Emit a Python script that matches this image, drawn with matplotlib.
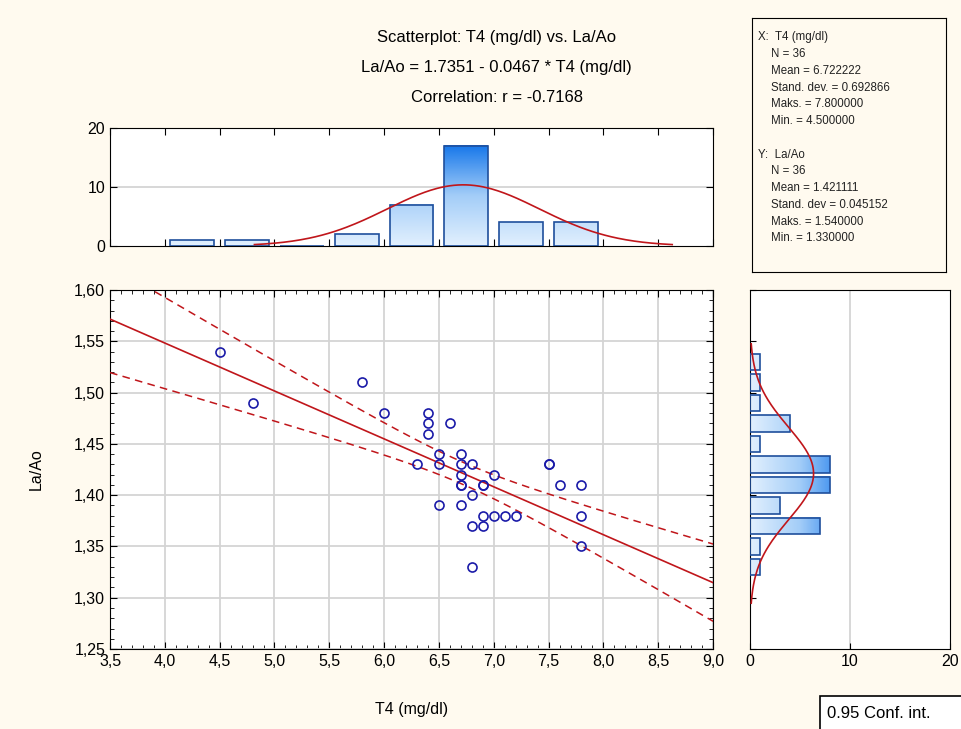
import numpy as np
import matplotlib
matplotlib.use("Agg")
import matplotlib.pyplot as plt
from matplotlib.colors import LinearSegmentedColormap
from matplotlib.patches import Rectangle
from matplotlib.ticker import MultipleLocator, FuncFormatter

plt.rcParams['font.family'] = ['Liberation Sans', 'DejaVu Sans']

# datos (36 pacientes)
t4 = [4.5, 4.8, 5.8, 6.0, 6.4, 6.4, 6.4, 6.6, 6.3, 6.5, 6.5, 6.7, 6.7, 6.8, 6.7, 6.7, 7.0, 6.9,
      6.8, 6.5, 6.7, 6.9, 7.0, 7.1, 7.2, 6.8, 6.9, 6.8, 7.5, 7.6, 7.8, 7.8, 7.8, 7.5, 6.7, 6.9]
la_ao = [1.54, 1.49, 1.51, 1.48, 1.48, 1.47, 1.46, 1.47, 1.43, 1.44, 1.43, 1.44, 1.43, 1.43, 1.42, 1.41, 1.42, 1.41,
         1.40, 1.39, 1.39, 1.38, 1.38, 1.38, 1.38, 1.37, 1.37, 1.33, 1.43, 1.41, 1.41, 1.38, 1.35, 1.43, 1.41, 1.41]

# histogramas marginales
t4_bins = [4.25, 4.75, 5.25, 5.75, 6.25, 6.75, 7.25, 7.75]
t4_counts = [1, 1, 0, 2, 7, 17, 4, 4]
la_bins = [1.33, 1.35, 1.37, 1.39, 1.41, 1.43, 1.45, 1.47, 1.49, 1.51, 1.53]
la_counts = [1, 1, 7, 3, 8, 8, 1, 4, 1, 1, 1]

stats_text = ("X:  T4 (mg/dl)\n    N = 36\n    Mean = 6.722222\n    Stand. dev. = 0.692866\n"
              "    Maks. = 7.800000\n    Min. = 4.500000\n\n"
              "Y:  La/Ao\n    N = 36\n    Mean = 1.421111\n    Stand. dev = 0.045152\n"
              "    Maks. = 1.540000\n    Min. = 1.330000")

bg = '#fffaef'
red = '#c0161b'
blue_edge = '#1f4f9c'
grad = LinearSegmentedColormap.from_list('g', ['#e2f0fe', '#a3cdf8', '#1878ea'])

x = np.array(t4)
y = np.array(la_ao)
n = len(x)

# regresion lineal e intervalo de confianza 0.95
b, a = np.polyfit(x, y, 1)
xm = x.mean()
sxx = np.sum((x - xm) ** 2)
s = np.sqrt(np.sum((y - (a + b * x)) ** 2) / (n - 2))
t_crit = 2.032
xs = np.linspace(3.5, 9.0, 200)
ys = a + b * xs
half = t_crit * s * np.sqrt(1 / n + (xs - xm) ** 2 / sxx)

fig = plt.figure(figsize=(9.61, 7.29), dpi=100, facecolor=bg)

ax = fig.add_axes([0.1145, 0.1097, 0.6275, 0.4925])
ax_top = fig.add_axes([0.1145, 0.6626, 0.6275, 0.1618])
ax_r = fig.add_axes([0.7804, 0.1097, 0.2081, 0.4925])

comma = FuncFormatter(lambda v, p: ('%.1f' % v).replace('.', ','))
comma2 = FuncFormatter(lambda v, p: ('%.2f' % v).replace('.', ','))

# grafico de dispersion
ax.grid(True, color='#d4d4d4', lw=1.3, zorder=0)
ax.plot(xs, ys, color=red, lw=1.2, zorder=3)
ax.plot(xs, ys + half, color=red, lw=1.1, dashes=(5, 3.5), zorder=3)
ax.plot(xs, ys - half, color=red, lw=1.1, dashes=(5, 3.5), zorder=3)
ax.plot(x, y, 'o', mfc='none', mec='#1a1aa8', ms=6.5, mew=1.2, zorder=4)
ax.set_xlim(3.5, 9.0)
ax.set_ylim(1.25, 1.60)
ax.xaxis.set_major_locator(MultipleLocator(0.5))
ax.xaxis.set_minor_locator(MultipleLocator(0.1))
ax.yaxis.set_major_locator(MultipleLocator(0.05))
ax.yaxis.set_minor_locator(MultipleLocator(0.01))
ax.xaxis.set_major_formatter(comma)
ax.yaxis.set_major_formatter(comma2)
ax.tick_params(which='both', direction='in', top=True, right=True, labelsize=11.5)
ax.tick_params(which='major', length=5)
ax.tick_params(which='minor', length=3)
ax.set_xlabel('T4 (mg/dl)', fontsize=11.5, labelpad=24)
ax.set_ylabel('La/Ao', fontsize=11.5, labelpad=22)

# histograma superior
bw = 0.4
for c, h in zip(t4_bins, t4_counts):
    if h == 0:
        continue
    img = np.linspace(0, h / 17.0, 100).reshape(-1, 1)
    ax_top.imshow(img, extent=[c - bw / 2, c + bw / 2, 0, h], origin='lower', aspect='auto',
                  cmap=grad, vmin=0, vmax=1, zorder=2)
ax_top.bar(t4_bins, t4_counts, width=bw, fill=False, edgecolor=blue_edge, lw=1.2, zorder=3)
sx = x.std(ddof=1)
xc = np.linspace(xm - 2.75 * sx, xm + 2.75 * sx, 200)
ax_top.plot(xc, n * 0.5 * np.exp(-0.5 * ((xc - xm) / sx) ** 2) / (sx * np.sqrt(2 * np.pi)),
            color=red, lw=1.2, zorder=4)
ax_top.axhline(10, color='#d4d4d4', lw=1.3, zorder=1)
ax_top.set_xlim(3.5, 9.0)
ax_top.set_ylim(0, 20)
ax_top.set_yticks([0, 10, 20])
ax_top.xaxis.set_major_locator(MultipleLocator(0.5))
ax_top.tick_params(direction='in', top=True, right=True, labelbottom=False, labelsize=11.5, length=5)

# histograma derecho
bh = 0.016
ym = y.mean()
sy = y.std(ddof=1)
for c, w in zip(la_bins, la_counts):
    img = np.linspace(0, w / 10.0, 100).reshape(1, -1)
    ax_r.imshow(img, extent=[0, w, c - bh / 2, c + bh / 2], origin='lower', aspect='auto',
                cmap=grad, vmin=0, vmax=1, zorder=2)
ax_r.barh(la_bins, la_counts, height=bh, fill=False, edgecolor=blue_edge, lw=1.2, zorder=3)
yc = np.linspace(ym - 2.8 * sy, ym + 2.8 * sy, 200)
ax_r.plot(n * 0.02 * np.exp(-0.5 * ((yc - ym) / sy) ** 2) / (sy * np.sqrt(2 * np.pi)), yc,
          color=red, lw=1.2, zorder=4)
ax_r.axvline(10, color='#d4d4d4', lw=1.3, zorder=1)
ax_r.set_xlim(0, 20)
ax_r.set_ylim(1.25, 1.60)
ax_r.set_xticks([0, 10, 20])
ax_r.yaxis.set_major_locator(MultipleLocator(0.05))
ax_r.tick_params(direction='in', labelleft=False, labelsize=11.5, length=4)

# titulos
fig.text(0.517, 0.948, 'Scatterplot: T4 (mg/dl) vs. La/Ao', ha='center', va='center', fontsize=12)
fig.text(0.517, 0.907, 'La/Ao = 1.7351 - 0.0467 * T4 (mg/dl)', ha='center', va='center', fontsize=12)
fig.text(0.517, 0.866, 'Correlation: r = -0.7168', ha='center', va='center', fontsize=12)

# cuadro de estadisticas
box = fig.add_axes([0.7825, 0.6269, 0.2019, 0.3484], facecolor=bg)
box.set_xticks([])
box.set_yticks([])
box.text(0.03, 0.948, stats_text, transform=box.transAxes, va='top', ha='left',
         fontsize=8.3, linespacing=1.53, color='#222222')

# leyenda
fig.patches.append(Rectangle((820 / 961, -0.01), 0.16, (729 - 696) / 729 + 0.01,
                             transform=fig.transFigure, fc='white', ec='black', lw=1.2))
fig.text(827 / 961, (729 - 714) / 729, '0.95 Conf. int.', fontsize=12, ha='left', va='center')

fig.savefig('out.png', dpi=100, facecolor=bg)
